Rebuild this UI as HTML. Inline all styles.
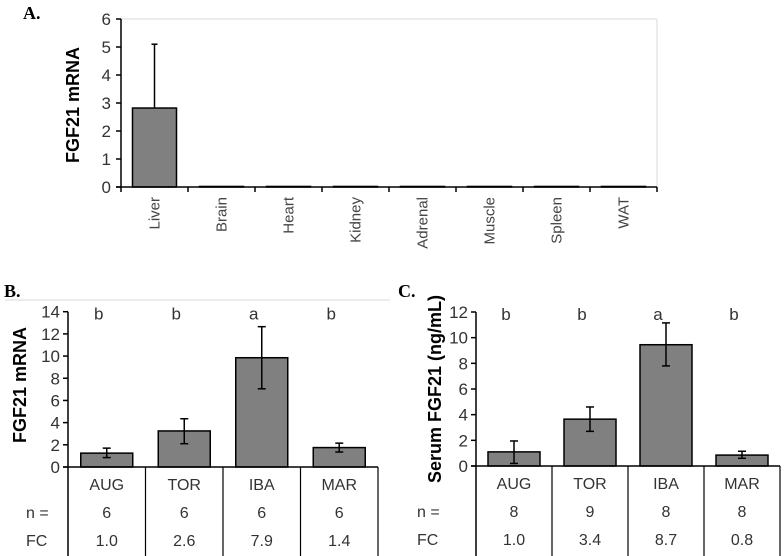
<!DOCTYPE html>
<html><head><meta charset="utf-8"><style>
body{margin:0;background:#fff;}
svg{display:block;font-family:"Liberation Sans",sans-serif;}
</style></head><body>
<svg id="s" width="784" height="556" viewBox="0 0 784 556"></svg>
<script>
const tissues=["Liver","Brain","Heart","Kidney","Adrenal","Muscle","Spleen","WAT"];
const tissueVals=[2.82,0.02,0.02,0.02,0.02,0.02,0.02,0.02];
const tissueErr=[2.28,0,0,0,0,0,0,0];
const groups=["AUG","TOR","IBA","MAR"];
const bVals=[1.25,3.25,9.85,1.75];
const bLo=[0.85,2.1,7.05,1.35];
const bHi=[1.7,4.35,12.65,2.15];
const bLetters=["b","b","a","b"];
const bN=["6","6","6","6"];
const bFC=["1.0","2.6","7.9","1.4"];
const cVals=[1.1,3.65,9.45,0.85];
const cLo=[0.2,2.7,7.8,0.6];
const cHi=[1.95,4.6,11.15,1.15];
const cLetters=["b","b","a","b"];
const cN=["8","9","8","8"];
const cFC=["1.0","3.4","8.7","0.8"];
const aTicks=[0,1,2,3,4,5,6];
const bTicks=[0,2,4,6,8,10,12,14];
const cTicks=[0,2,4,6,8,10,12];

const S=document.getElementById('s');
const NS="http://www.w3.org/2000/svg";
function el(t,a,txt){const e=document.createElementNS(NS,t);for(const k in a)e.setAttribute(k,a[k]);if(txt!==undefined)e.textContent=txt;S.appendChild(e);return e;}
function line(x1,y1,x2,y2,c,w){return el('line',{x1,y1,x2,y2,stroke:c||'#000','stroke-width':w||1.5});}

let t;
t=el('text',{x:23,y:19,'font-family':'Liberation Serif','font-weight':'bold','font-size':18},'A.');

t=el('text',{x:4,y:297,'font-family':'Liberation Serif','font-weight':'bold','font-size':18},'B.');

t=el('text',{x:398,y:297,'font-family':'Liberation Serif','font-weight':'bold','font-size':18},'C.');


(function(){
 const x0=121,x1=657,y0=187,yT=19,max=6;
 const ys=v=>y0-(v/max)*(y0-yT);
 const bw=(x1-x0)/tissues.length;
 line(x0,yT,x1,yT,'#d9d9d9',1);line(x1,yT,x1,y0,'#d9d9d9',1);
 aTicks.forEach(v=>{line(x0-5,ys(v),x0,ys(v),'#000',1.5);
  const tt=el('text',{x:x0-10,y:ys(v)+6,'text-anchor':'end','font-size':17,fill:'#333'},v);
  });
 tissues.forEach((n,i)=>{
  const cx=x0+bw*(i+0.5);
  line(x0+bw*(i+1),y0,x0+bw*(i+1),y0+5,'#000',1.5);
  const r=el('rect',{x:cx-22,y:ys(tissueVals[i]),width:44,height:y0-ys(tissueVals[i]),fill:'#808080',stroke:'#000','stroke-width':1.5});
  
  if(tissueErr[i]>0){const top=ys(tissueVals[i]+tissueErr[i]);line(cx,ys(tissueVals[i]),cx,top,'#000',1.5);line(cx-3,top,cx+3,top,'#000',1.5);}
  const tl=el('text',{x:0,y:0,'text-anchor':'end','font-size':15,fill:'#444',transform:`translate(${cx+5},197) rotate(-90)`},n);
  
 });
 line(x0,yT,x0,y0+5,'#000',1.5);line(x0-5,y0,x1,y0,'#000',1.5);
 const yl=el('text',{x:0,y:0,'text-anchor':'middle','font-size':18,'font-weight':'bold',transform:'translate(79,105) rotate(-90)'},'FGF21 mRNA');
 
})();

function panel(p,x0,x1,y0,yT,max,ticks,vals,lo,hi,letters,ns,fcs,ylab,ylx,yly,rowx,frame){
 const ys=v=>y0-(v/max)*(y0-yT);
 const bw=(x1-x0)/groups.length;
 if(frame)line(frame[0],300,frame[1],300,'#d9d9d9',1);
 ticks.forEach(v=>{line(x0-5,ys(v),x0,ys(v),'#000',1.5);
  const tt=el('text',{x:x0-8,y:ys(v)+6,'text-anchor':'end','font-size':17,fill:'#333'},v);
  });
 groups.forEach((g,i)=>{
  const cx=x0+bw*(i+0.5);
  line(x0+bw*(i+1),y0,x0+bw*(i+1),556,'#000',1.2);
  const r=el('rect',{x:cx-26,y:ys(vals[i]),width:52,height:y0-ys(vals[i]),fill:'#808080',stroke:'#000','stroke-width':1.5});
  
  const a=ys(lo[i]),b=ys(hi[i]);
  line(cx,a,cx,b,'#000',1.5);line(cx-4,a,cx+4,a,'#000',1.5);line(cx-4,b,cx+4,b,'#000',1.5);
  const L=el('text',{x:cx-8,y:yT+8,'text-anchor':'middle','font-size':17,fill:'#333'},letters[i]);
  
  const c=el('text',{x:cx,y:y0+23,'text-anchor':'middle','font-size':16,fill:'#333'},g);
  
  const n=el('text',{x:cx,y:y0+51,'text-anchor':'middle','font-size':16,fill:'#333'},ns[i]);
  
  const f=el('text',{x:cx,y:y0+79,'text-anchor':'middle','font-size':16,fill:'#333'},fcs[i]);
  
 });
 line(x0,yT,x0,556,'#000',1.5);line(x0-5,y0,x1,y0,'#000',1.5);
 let r1=el('text',{x:rowx,y:y0+51,'font-size':16,fill:'#333'},'n =');
 
 let r2=el('text',{x:rowx,y:y0+79,'font-size':16,fill:'#333'},'FC');
 
 const yl=el('text',{x:0,y:0,'text-anchor':'middle','font-size':18,'font-weight':'bold',transform:`translate(${ylx},${yly}) rotate(-90)`},ylab);
 
}
panel('b',68,378,467,311.7,14,bTicks,bVals,bLo,bHi,bLetters,bN,bFC,'FGF21 mRNA',26,385,26,[5,390]);
panel('c',476,780,466,312,12,cTicks,cVals,cLo,cHi,cLetters,cN,cFC,'Serum FGF21 (ng/mL)',441,389,417,null);
</script>
</body></html>
